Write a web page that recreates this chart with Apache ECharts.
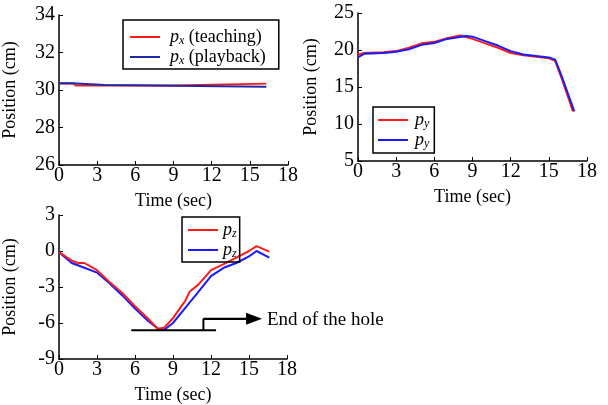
<!DOCTYPE html>
<html lang="en">
<head>
    <meta charset="UTF-8">
    <title>Position</title>
    <script src="https://cdn.jsdelivr.net/npm/echarts@6/dist/echarts.min.js"></script>
</head>
<body style="margin:0">
    <div id="box" style="width: 608px; height: 405px; background-color: white;"></div>
    <script>
        var FONT = 'Liberation Serif';

        // [time, value]
        var pxTeach = [[0, 30.35], [1.2, 30.35], [1.3, 30.24], [9, 30.24], [9.1, 30.34], [16.3, 30.34]];
        var pxPlay = [[0, 30.36], [1.0, 30.36], [1.1, 30.27], [3.6, 30.27], [3.7, 30.18], [16.3, 30.17]];

        var pyTeach = [[0, 19.4], [0.5, 19.6], [2, 19.7], [3, 19.85], [4, 20.3], [5, 20.9], [6, 21.1], [7, 21.6], [8, 21.95], [9, 21.5], [10, 20.9], [11, 20.3], [12, 19.6], [13, 19.3], [14, 19.1], [15, 18.9], [15.5, 18.5], [16, 16.2], [16.9, 11.7]];
        var pyPlay = [[0, 19.0], [0.5, 19.5], [2, 19.6], [3, 19.75], [4, 20.1], [5, 20.7], [6, 20.95], [7, 21.5], [8.5, 21.9], [9, 21.8], [10, 21.2], [11, 20.6], [12, 19.85], [13, 19.4], [14, 19.2], [15, 19.0], [15.5, 18.7], [16, 16.5], [17, 11.7]];

        var pzTeach = [[0, -0.1], [1, -0.8], [1.5, -1.0], [2, -1.0], [3, -1.6], [4, -2.6], [5, -3.5], [6, -4.6], [7, -5.6], [7.8, -6.5], [8.3, -6.4], [9, -5.6], [10, -4.1], [10.3, -3.4], [11, -2.8], [12, -1.6], [13, -1.1], [14, -0.55], [15, 0.0], [15.6, 0.4], [16.6, -0.05]];
        var pzPlay = [[0, -0.1], [1, -1.0], [2, -1.4], [3, -1.8], [4, -2.7], [5, -3.7], [6, -4.8], [7, -5.8], [7.8, -6.45], [8.4, -6.5], [9, -6.0], [10, -4.7], [11, -3.4], [12, -2.1], [13, -1.4], [14, -1.0], [15, -0.45], [15.6, 0.0], [16.6, -0.55]];

        // annotation: hole bottom line and step arrow
        var holeLine = [[5.7, -6.6], [12.4, -6.6]];
        var holeStep = [[11.4, -6.6], [11.4, -5.65]];
        var holeArrow = [[11.4, -5.65], [15.4, -5.65]];

        var myEcharts = echarts.init(document.getElementById('box'));

        function richFor(lh, gap) {
            return {
                i: { fontFamily: FONT, fontSize: 18, fontStyle: 'italic', color: '#000', lineHeight: lh, padding: [0, 0, 0, gap] },
                s: { fontFamily: FONT, fontSize: 12, fontStyle: 'italic', color: '#000', lineHeight: 6, padding: [8, 0, 0, 0] },
                t: { fontFamily: FONT, fontSize: 18, color: '#000', lineHeight: lh }
            };
        }

        function xAxis(idx) {
            return {
                gridIndex: idx, type: 'value', min: 0, max: 18, interval: 3,
                name: 'Time (sec)', nameLocation: 'middle', nameGap: 27,
                nameTextStyle: { fontFamily: FONT, fontSize: 18, color: '#000' },
                axisLine: { onZero: false, lineStyle: { color: '#000', width: 1.5 } },
                axisTick: { inside: true, length: 4, lineStyle: { color: '#000' } },
                axisLabel: { fontFamily: FONT, fontSize: 20, color: '#000', margin: 1 },
                splitLine: { show: false }
            };
        }
        function yAxis(idx, min, max, interval, gap) {
            return {
                gridIndex: idx, type: 'value', min: min, max: max, interval: interval,
                name: 'Position (cm)', nameLocation: 'middle', nameGap: gap,
                nameTextStyle: { fontFamily: FONT, fontSize: 18, color: '#000' },
                axisLine: { show: true, onZero: false, lineStyle: { color: '#000', width: 1.5 } },
                axisTick: { show: true, inside: true, length: 4, lineStyle: { color: '#000' } },
                axisLabel: { fontFamily: FONT, fontSize: 20, color: '#000', margin: 4 },
                splitLine: { show: false }
            };
        }
        function line(name, idx, data, color) {
            return {
                name: name, type: 'line', xAxisIndex: idx, yAxisIndex: idx,
                data: data, symbol: 'none', silent: true,
                lineStyle: { color: color, width: 2 }, itemStyle: { color: color }
            };
        }
        function blackLine(idx, data) {
            return {
                type: 'line', xAxisIndex: idx, yAxisIndex: idx, data: data,
                symbol: 'none', silent: true,
                lineStyle: { color: '#000', width: 2 }
            };
        }
        function legend(names, left, top, lh, gap, pad, fmt) {
            return {
                data: names, orient: 'vertical', left: left, top: top,
                icon: 'rect', itemWidth: 30, itemHeight: 2, itemGap: 0,
                padding: pad,
                borderColor: '#000', borderWidth: 1.5, borderRadius: 0,
                formatter: fmt,
                textStyle: { fontFamily: FONT, fontSize: 18, color: '#000', lineHeight: lh, rich: richFor(lh, gap) }
            };
        }

        var RED = '#ff1a1a', BLUE = '#1a1aff';

        var option = {
            animation: false,
            textStyle: { fontFamily: FONT, fontSize: 18, color: '#000' },
            grid: [
                { left: 58, top: 15, width: 230, height: 150 },
                { left: 358, top: 13, width: 229, height: 148 },
                { left: 57, top: 215, width: 230, height: 147 }
            ],
            xAxis: [xAxis(0), xAxis(1), xAxis(2)],
            yAxis: [yAxis(0, 26, 34, 2, 40), yAxis(1, 5, 25, 5, 38), yAxis(2, -9, 3, 3, 40)],
            legend: [
                legend(['px_t', 'px_p'], 123, 20, 20, 5, [7, 13, 2, 7], function (n) {
                    return n === 'px_t' ? '{i|p}{s|x}{t| (teaching)}' : '{i|p}{s|x}{t| (playback)}';
                }),
                legend(['py_t', 'py_p'], 373, 107, 13, 2, [3, 5, 3, 5], function () { return '{i|p}{s|y}'; }),
                legend(['pz_t', 'pz_p'], 182, 217, 16, 0, [3, 3, 2, 6], function () { return '{i|p}{s|z}'; })
            ],
            series: [
                line('px_t', 0, pxTeach, RED),
                line('px_p', 0, pxPlay, '#1a2aa8'),
                line('py_t', 1, pyTeach, RED),
                line('py_p', 1, pyPlay, BLUE),
                line('pz_p', 2, pzPlay, BLUE),
                line('pz_t', 2, pzTeach, RED),
                blackLine(2, holeLine),
                blackLine(2, holeStep),
                {
                    type: 'line', xAxisIndex: 2, yAxisIndex: 2, data: holeArrow,
                    symbol: 'none', silent: true,
                    lineStyle: { color: '#000', width: 2 },
                    markLine: {
                        silent: true, symbol: ['none', 'triangle'], symbolSize: [12, 16],
                        label: { show: false },
                        lineStyle: { color: '#000', width: 2, type: 'solid' },
                        data: [[{ coord: holeArrow[0] }, { coord: holeArrow[1] }]]
                    }
                }
            ],
            graphic: [{
                type: 'text', left: 267, top: 311,
                style: { text: 'End of the hole', fontFamily: FONT, fontSize: 19, fill: '#000' }
            }]
        };
        myEcharts.setOption(option);
    </script>
</body>
</html>
